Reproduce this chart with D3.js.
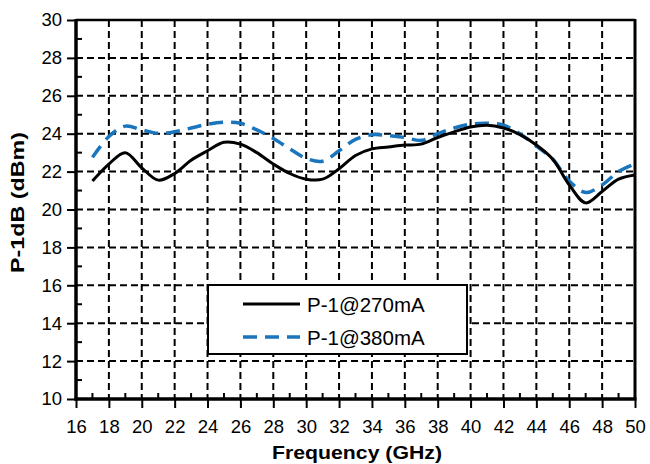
<!DOCTYPE html>
<html>
<head>
<meta charset="utf-8">
<script src="https://cdn.jsdelivr.net/npm/d3@7"></script>
<style>
  body { margin: 0; background: #fff; }
  text { font-family: "Liberation Sans", Arial, sans-serif; }
</style>
</head>
<body>
<div class="visHolder"></div>
<script>
// ========================================
// Data
// ========================================
const freq = [17, 18, 19, 20, 21, 22, 23, 24, 25, 26, 27, 28, 29, 30, 31, 32, 33,
              34, 35, 36, 37, 38, 39, 40, 41, 42, 43, 44, 45, 46, 47, 48, 49, 50];
const p270 = [21.5, 22.4, 23.0, 22.2, 21.55, 21.9, 22.6, 23.1, 23.55, 23.45, 23.0, 22.4, 21.9, 21.6, 21.6, 22.15, 22.85,
              23.2, 23.3, 23.4, 23.45, 23.8, 24.1, 24.35, 24.45, 24.3, 23.95, 23.4, 22.65, 21.3, 20.35, 20.95, 21.6, 21.82];
const p380 = [22.75, 23.85, 24.4, 24.2, 24.02, 24.1, 24.3, 24.5, 24.6, 24.55, 24.2, 23.75, 23.2, 22.7, 22.55, 23.1, 23.7,
              23.95, 23.9, 23.8, 23.65, 24.0, 24.3, 24.5, 24.55, 24.45, 24.0, 23.35, 22.65, 21.5, 20.9, 21.3, 22.0, 22.4];
const xTicks = d3.range(16, 51, 2);
const yTicks = d3.range(10, 31, 2);
const seriesNames = ['P-1@270mA', 'P-1@380mA'];

// ========================================
// Dimensions
// ========================================
const width = 650, height = 464;
const pLeft = 76, pRight = 635, pTop = 20, pBottom = 399;
const blue = '#1a75bc';

const svg = d3.select('.visHolder')
  .append('svg')
    .attr('width', width)
    .attr('height', height);

const x = d3.scaleLinear().domain([16, 50]).range([pLeft, pRight]);
const y = d3.scaleLinear().domain([10, 30]).range([pBottom, pTop]);

// grid (dashed, inner major values only)
svg.append('g')
  .selectAll('line')
  .data(xTicks.slice(1, -1))
  .join('line')
    .attr('x1', d => x(d)).attr('x2', d => x(d))
    .attr('y1', pTop).attr('y2', pBottom)
    .attr('stroke', '#000').attr('stroke-width', 2)
    .attr('stroke-dasharray', '7,4');

svg.append('g')
  .selectAll('line')
  .data(yTicks.slice(1, -1))
  .join('line')
    .attr('x1', pLeft).attr('x2', pRight)
    .attr('y1', d => y(d)).attr('y2', d => y(d))
    .attr('stroke', '#000').attr('stroke-width', 2)
    .attr('stroke-dasharray', '7,4');

// axes
const xAxis = svg.append('g')
  .attr('transform', 'translate(0,' + pBottom + ')')
  .call(d3.axisBottom(x).tickValues(xTicks).tickSize(9).tickPadding(12).tickFormat(d3.format('d')));
const yAxis = svg.append('g')
  .attr('transform', 'translate(' + pLeft + ',0)')
  .call(d3.axisLeft(y).tickValues(yTicks).tickSize(9).tickPadding(5).tickFormat(d3.format('d')));

[xAxis, yAxis].forEach(a => {
  a.select('.domain').remove();
  a.selectAll('line').attr('stroke-width', 2);
  a.selectAll('text').attr('font-size', 18.5).attr('fill', '#000');
});
xAxis.selectAll('text').attr('dy', '0.72em').attr('y', 21);

// minor ticks (inside)
svg.append('g')
  .selectAll('line')
  .data(d3.range(17, 50, 2))
  .join('line')
    .attr('x1', d => x(d)).attr('x2', d => x(d))
    .attr('y1', pBottom).attr('y2', pBottom - 6)
    .attr('stroke', '#000').attr('stroke-width', 2);
svg.append('g')
  .selectAll('line')
  .data(d3.range(11, 30, 2))
  .join('line')
    .attr('x1', pLeft).attr('x2', pLeft + 6)
    .attr('y1', d => y(d)).attr('y2', d => y(d))
    .attr('stroke', '#000').attr('stroke-width', 2);

// frame
svg.append('line').attr('x1', pLeft).attr('x2', pRight).attr('y1', pTop).attr('y2', pTop)
  .attr('stroke', '#000').attr('stroke-width', 2.5);
svg.append('line').attr('x1', pRight).attr('x2', pRight).attr('y1', pTop - 1).attr('y2', pBottom)
  .attr('stroke', '#000').attr('stroke-width', 3);
svg.append('line').attr('x1', pLeft).attr('x2', pLeft).attr('y1', pTop - 1).attr('y2', pBottom + 1.5)
  .attr('stroke', '#000').attr('stroke-width', 3.5);
svg.append('line').attr('x1', pLeft - 1.5).attr('x2', pRight + 1.5).attr('y1', pBottom).attr('y2', pBottom)
  .attr('stroke', '#000').attr('stroke-width', 3.5);

// series
const line = vals => d3.line()
  .x((d, i) => x(freq[i]))
  .y(d => y(d))
  .curve(d3.curveCatmullRom)(vals);

svg.append('path')
  .attr('d', line(p380))
  .attr('fill', 'none')
  .attr('stroke', blue)
  .attr('stroke-width', 3.5)
  .attr('stroke-dasharray', '14,8');

svg.append('path')
  .attr('d', line(p270))
  .attr('fill', 'none')
  .attr('stroke', '#000')
  .attr('stroke-width', 3);

// axis titles
svg.append('text')
  .attr('x', 272).attr('y', 459)
  .attr('font-size', 19).attr('font-weight', 'bold')
  .attr('textLength', 170).attr('lengthAdjust', 'spacingAndGlyphs')
  .text('Frequency (GHz)');
svg.append('text')
  .attr('transform', 'translate(24,273) rotate(-90)')
  .attr('font-size', 19).attr('font-weight', 'bold')
  .attr('textLength', 141).attr('lengthAdjust', 'spacingAndGlyphs')
  .text('P-1dB (dBm)');

// legend
const legend = svg.append('g');
legend.append('rect')
  .attr('x', 208).attr('y', 285).attr('width', 259).attr('height', 69)
  .attr('fill', '#fff').attr('stroke', '#000').attr('stroke-width', 2);
seriesNames.forEach((name, i) => {
  const ly = 304 + i * 33;
  legend.append('line')
    .attr('x1', 243).attr('x2', 300).attr('y1', ly).attr('y2', ly)
    .attr('stroke', i ? blue : '#000')
    .attr('stroke-width', i ? 3.5 : 3)
    .attr('stroke-dasharray', i ? '14,8' : null);
  legend.append('text')
    .attr('x', 307).attr('y', ly + 7.5)
    .attr('font-size', 20.5)
    .text(name);
});
</script>
</body>
</html>
